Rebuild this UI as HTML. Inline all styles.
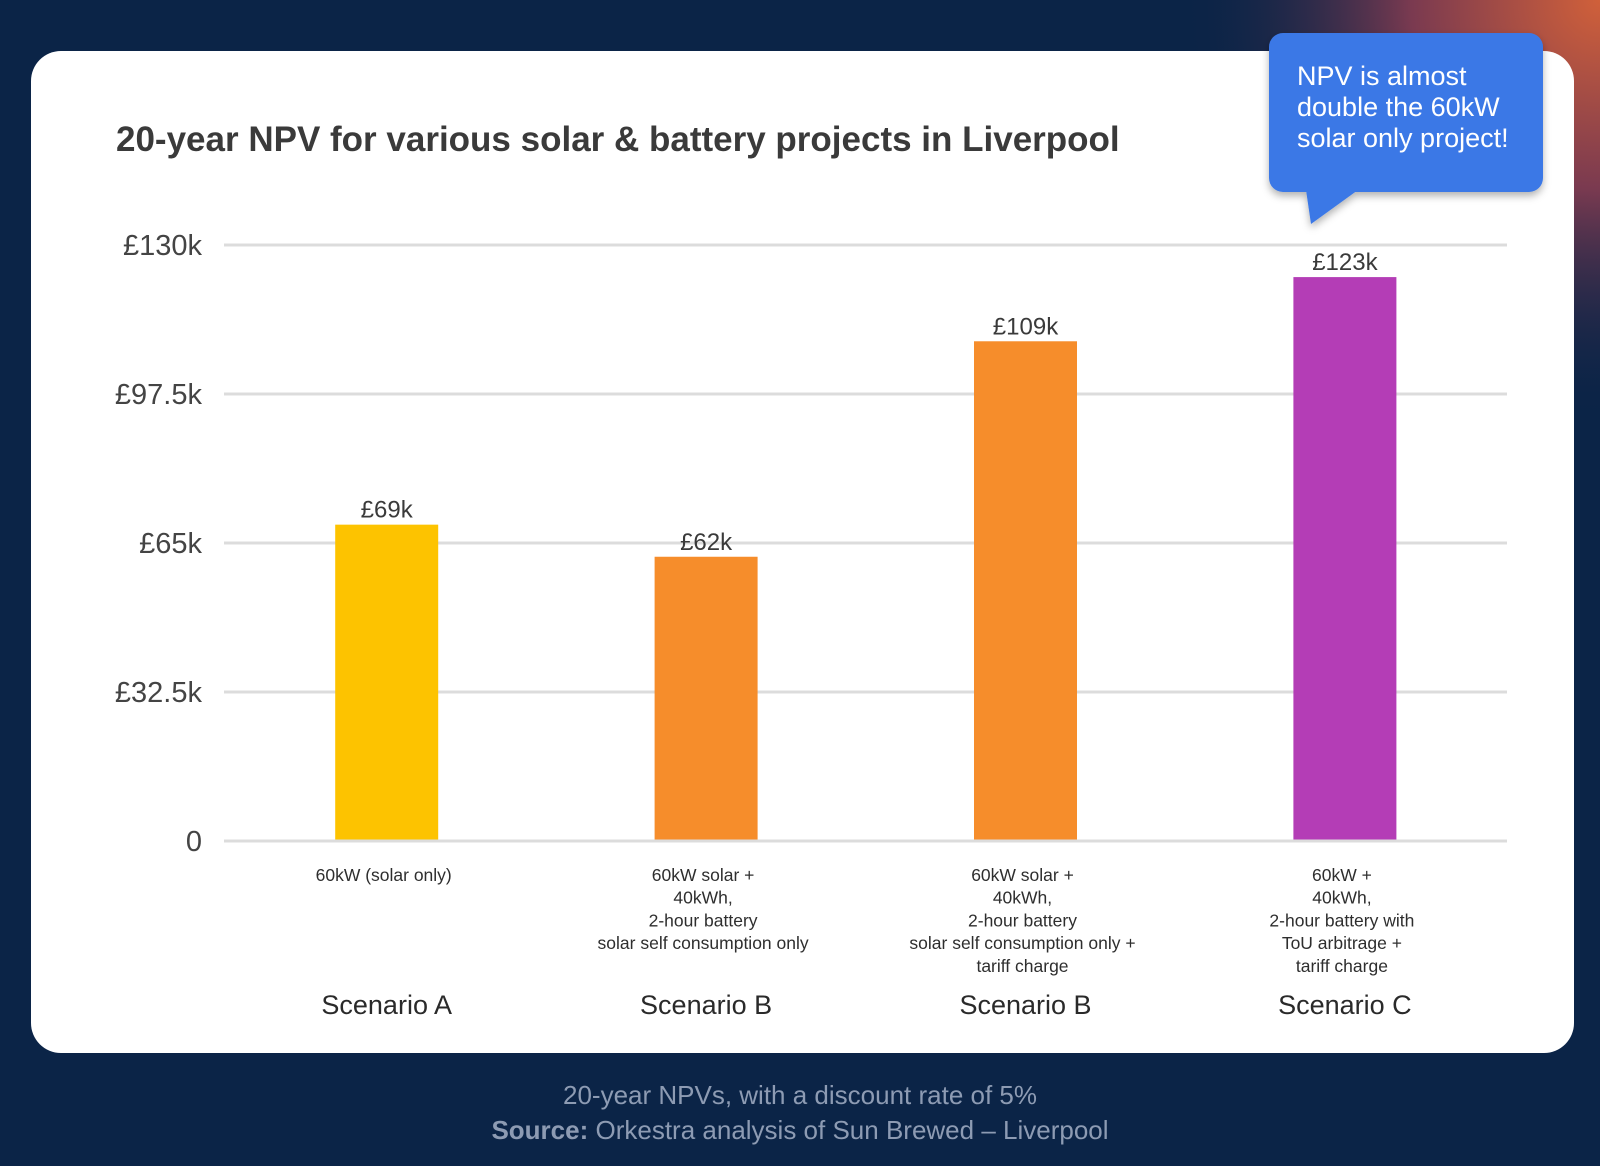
<!DOCTYPE html>
<html><head><meta charset="utf-8"><style>
html,body{margin:0;padding:0;width:1600px;height:1166px;overflow:hidden;font-family:"Liberation Sans",sans-serif;}
body{background:#0b2447;position:relative;}
</style></head><body>
<svg width="1600" height="1166" viewBox="0 0 1600 1166" xmlns="http://www.w3.org/2000/svg" id="root">
<defs>
<radialGradient id="glow" cx="1600" cy="0" r="420" gradientUnits="userSpaceOnUse">
<stop offset="0" stop-color="#d0603a"/><stop offset="0.45" stop-color="#7a3a50"/><stop offset="1" stop-color="#0b2447" stop-opacity="0"/>
</radialGradient>
<filter id="sh" x="-10%" y="-10%" width="120%" height="130%"><feDropShadow dx="0" dy="4" stdDeviation="4" flood-color="#000" flood-opacity="0.3"/></filter>
</defs>
<rect width="1600" height="1166" fill="#0b2447"/>
<rect width="1600" height="1166" fill="url(#glow)"/>
<rect x="31" y="51" width="1543" height="1002" rx="30" fill="#ffffff"/>
<text x="116" y="151" font-size="35" font-weight="bold" fill="#3a3a3a">20-year NPV for various solar &amp; battery projects in Liverpool</text>
<g id="grid"></g>
<g id="bars"></g>
<g id="labels"></g>
<g filter="url(#sh)">
<rect x="1269" y="33" width="274" height="159" rx="14" fill="#3a78e6"/>
<polygon points="1306,190 1358,190 1311,224" fill="#3a78e6"/>
</g>
<text font-size="27" fill="#ffffff">
<tspan x="1297" y="85">NPV is almost</tspan><tspan x="1297" y="116">double the 60kW</tspan><tspan x="1297" y="147">solar only project!</tspan></text>
<text x="800" y="1104" font-size="26" fill="#8d9bb3" text-anchor="middle">20-year NPVs, with a discount rate of 5%</text>
<text x="800" y="1139" font-size="26" fill="#8d9bb3" text-anchor="middle"><tspan font-weight="bold">Source:</tspan> Orkestra analysis of Sun Brewed – Liverpool</text>
</svg>
<script>
const categories = ["60kW (solar only)", "60kW solar +\n40kWh,\n2-hour battery\nsolar self consumption only", "60kW solar +\n40kWh,\n2-hour battery\nsolar self consumption only +\ntariff charge", "60kW +\n40kWh,\n2-hour battery with\nToU arbitrage +\ntariff charge"];
const scenarios = ["Scenario A", "Scenario B", "Scenario B", "Scenario C"];
const values = [69, 62, 109, 123];
const valueLabels = ["£69k", "£62k", "£109k", "£123k"];
const ticks = [0, 32.5, 65, 97.5, 130];
const tickLabels = ["0", "£32.5k", "£65k", "£97.5k", "£130k"];
const barColors = ["#fdc300", "#f68d2b", "#f68d2b", "#b43db6"];

const NS = "http://www.w3.org/2000/svg";
const X0 = 224, X1 = 1507, Y0 = 841, Y1 = 245, YMAX = 130;
const y = v => Y0 - (v / YMAX) * (Y0 - Y1);
const band = 319.4;
const xc = i => X0 + 3 + band * (i + 0.5);
function mk(tag, attrs, parent, txt) {
  const e = document.createElementNS(NS, tag);
  for (const k in attrs) e.setAttribute(k, attrs[k]);
  if (txt !== undefined) e.textContent = txt;
  parent.appendChild(e);
  return e;
}
const grid = document.getElementById('grid');
const bars = document.getElementById('bars');
const labels = document.getElementById('labels');
ticks.forEach((t, i) => {
  const l = mk('line', {x1: X0, x2: X1, y1: y(t), y2: y(t), stroke: '#dcdcdc', 'stroke-width': 3}, grid);
  
  
  const tl = mk('text', {x: 202, y: y(t) + 10, 'font-size': 29, fill: '#444', 'text-anchor': 'end'}, grid, tickLabels[i]);
  
  
});
const BW = 103;
values.forEach((v, i) => {
  const r = mk('rect', {x: xc(i) - BW / 2, y: y(v), width: BW, height: Y0 - y(v) - 1.5, fill: barColors[i]}, bars);
  
  
  const vl = mk('text', {x: xc(i), y: y(v) - 7, 'font-size': 24, fill: '#3a3a3a', 'text-anchor': 'middle'}, labels, valueLabels[i]);
  
  
  const ct = mk('text', {'font-size': 17.5, fill: '#2e2e2e', 'text-anchor': 'middle'}, labels);
  
  
  categories[i].split('\n').forEach((line, j) => {
    mk('tspan', {x: xc(i) - 3, y: 881 + j * 22.7}, ct, line);
  });
  const sc = mk('text', {x: xc(i), y: 1014, 'font-size': 27, fill: '#2a2a2a', 'text-anchor': 'middle'}, labels, scenarios[i]);
  
  
});
</script>
</body></html>
